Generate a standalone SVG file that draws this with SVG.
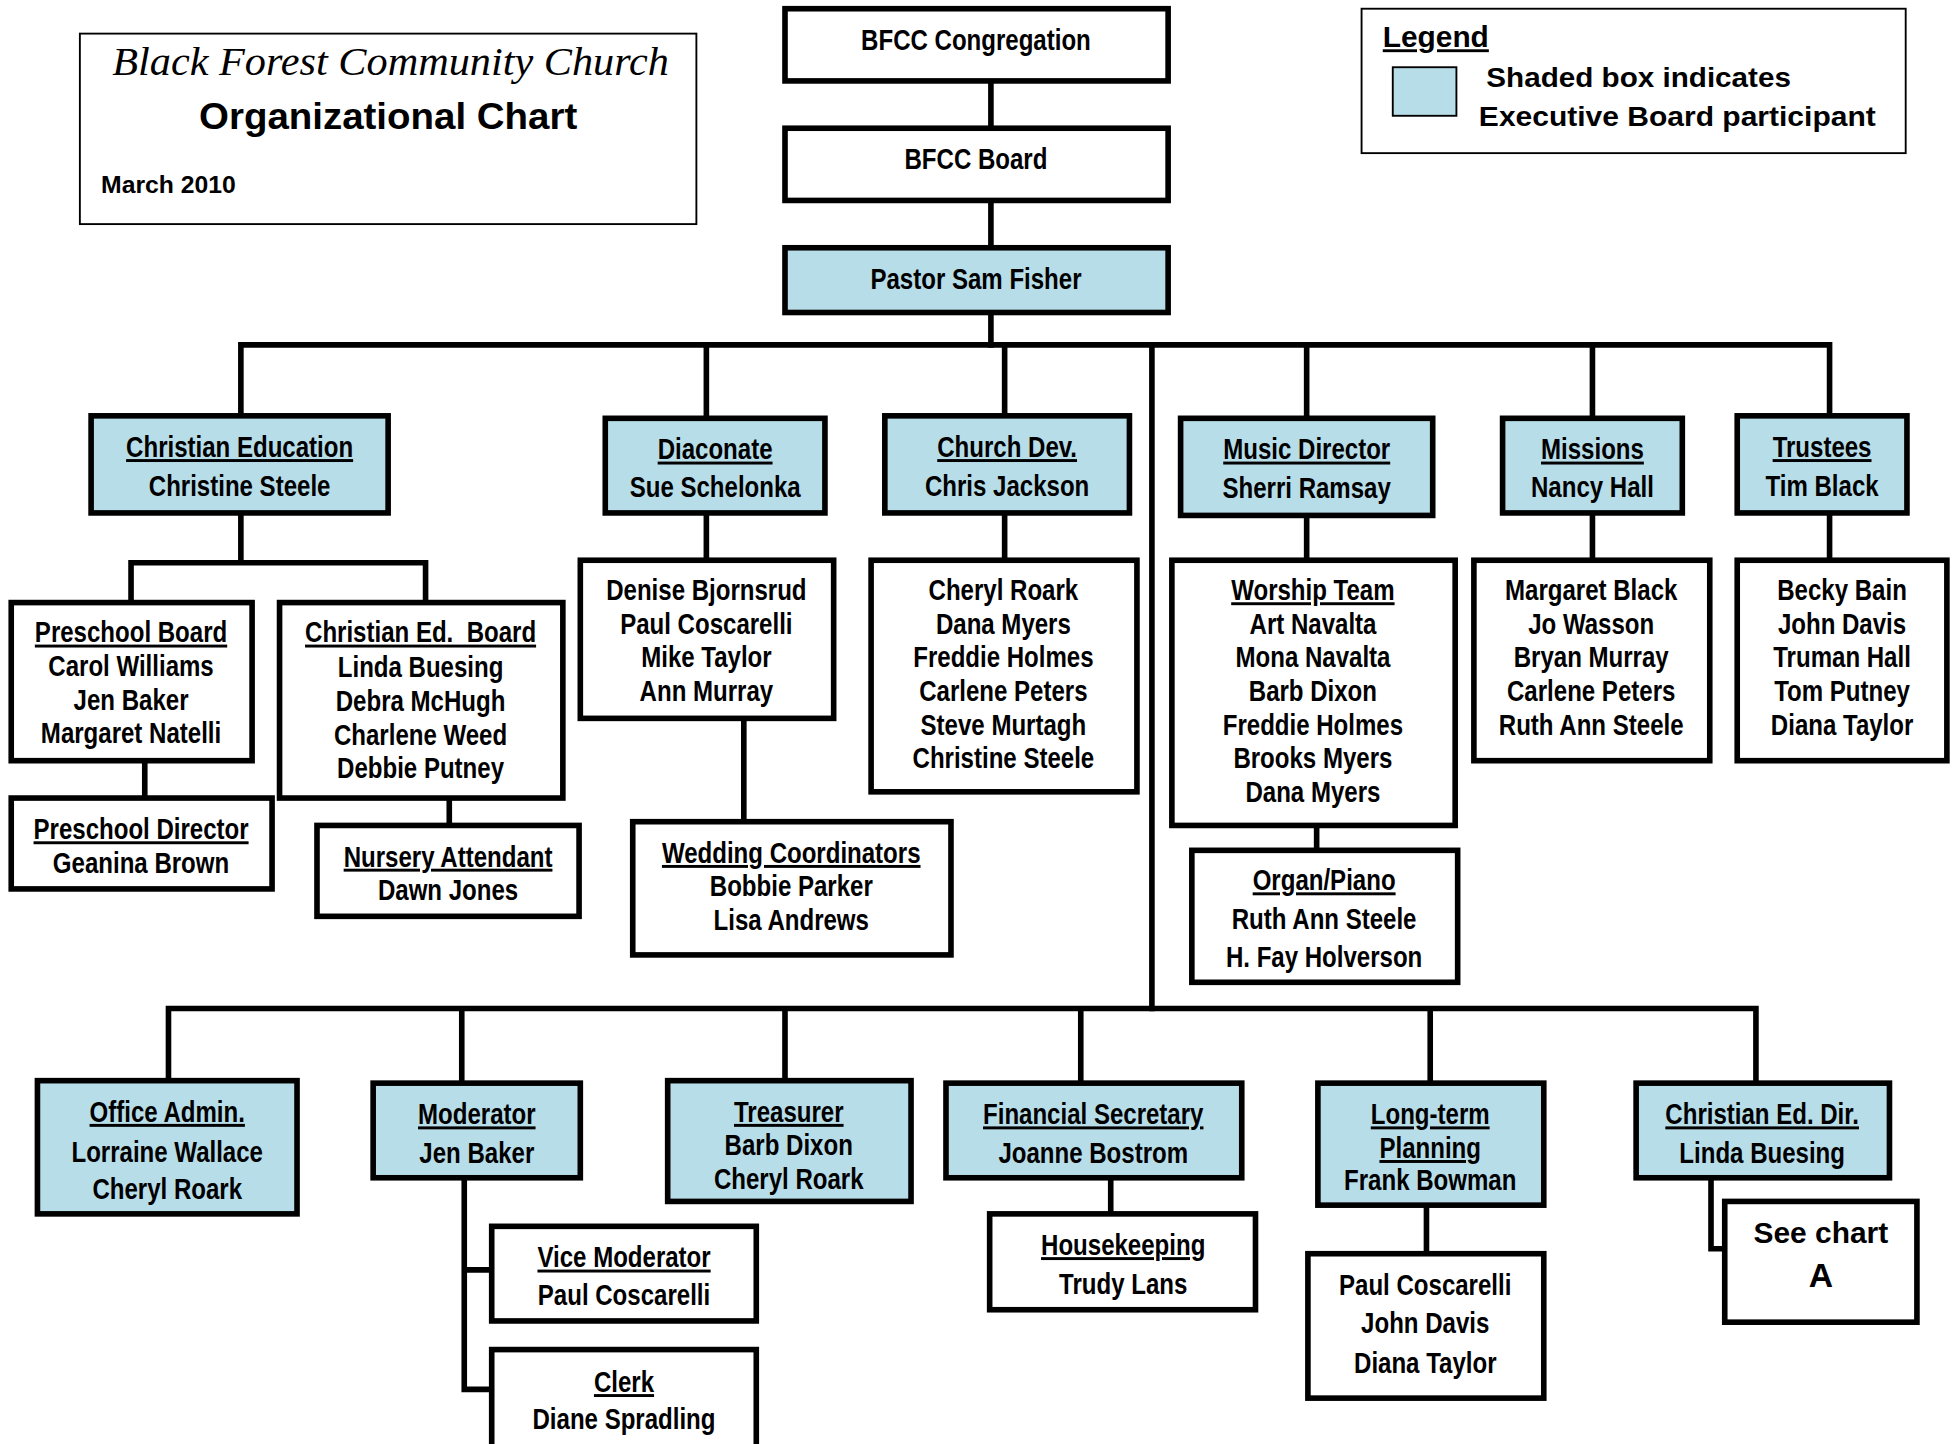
<svg xmlns="http://www.w3.org/2000/svg" width="1953" height="1444" viewBox="0 0 1953 1444">
<style>
.b{fill:#fff;stroke:#000;stroke-width:4.5}
.s{fill:#b7dde8;stroke:#000;stroke-width:4.5}
.thin{fill:#fff;stroke:#000;stroke-width:1.5}
.c{fill:none;stroke:#000;stroke-width:4.5;stroke-linecap:square}
.t{font-family:"Liberation Sans",Arial,sans-serif;font-weight:bold;font-size:23.5px;text-anchor:middle;fill:#000;transform-box:fill-box;transform-origin:center;transform:scaleX(0.82)}
.u{text-decoration:underline}
.a{font-family:"Liberation Sans",Arial,sans-serif;font-weight:bold;fill:#000}
</style>
<rect width="1953" height="1444" fill="#fff"/>
<g transform="scale(1.248,1.245)">
<g id="connectors">
<path class="c" d="M794 65V103M794 161V199M794 251V277"/>
<path class="c" d="M193 334V277H1466V334M566 277V336M805 277V334M923 277V810M1047 277V336M1276 277V336"/>
<path class="c" d="M193 412V452M105 484V452H341V484M116 611V641M360 641V663"/>
<path class="c" d="M566 412V450M596 577V660M805 412V450M1047 414V450M1055 663V683M1276 412V450M1466 412V450"/>
<path class="c" d="M135 868V810H1407V868M370 810V870M629 810V868M866 810V870M1146 810V870"/>
<path class="c" d="M372 946V1116H394M372 1020H394M890 946V975M1143 968V1007M1371 946V1003H1382"/>
</g>
<g id="title">
<rect class="thin" x="64" y="27" width="494" height="153"/>
<text x="313" y="60" style="font-family:'Liberation Serif',serif;font-style:italic;font-size:32px" text-anchor="middle" textLength="446" lengthAdjust="spacingAndGlyphs">Black Forest Community Church</text>
<text class="a" x="311" y="104" font-size="29" text-anchor="middle" textLength="303" lengthAdjust="spacingAndGlyphs">Organizational Chart</text>
<text class="a" x="81" y="155" font-size="19" textLength="108" lengthAdjust="spacingAndGlyphs">March 2010</text>
</g>
<g id="legend">
<rect class="thin" x="1091" y="7" width="436" height="116"/>
<text class="a u" x="1108" y="38" font-size="23" textLength="85" lengthAdjust="spacingAndGlyphs">Legend</text>
<rect x="1116" y="54" width="51" height="39" fill="#b7dde8" stroke="#000" stroke-width="1.5"/>
<text class="a" x="1191" y="70" font-size="22.5" textLength="244" lengthAdjust="spacingAndGlyphs">Shaded box indicates</text>
<text class="a" x="1185" y="101" font-size="22.5" textLength="318" lengthAdjust="spacingAndGlyphs">Executive Board participant</text>
</g>
<g id="congregation"><rect class="b" x="629" y="7" width="307" height="58"/><text class="t" x="782" y="40">BFCC Congregation</text></g>
<g id="board"><rect class="b" x="629" y="103" width="307" height="58"/><text class="t" x="782" y="136">BFCC Board</text></g>
<g id="pastor"><rect class="s" x="629" y="199" width="307" height="52"/><text class="t" x="782" y="232">Pastor Sam Fisher</text></g>

<g id="ce"><rect class="s" x="73" y="334" width="238" height="78"/><text class="t u" x="192" y="367">Christian Education</text><text class="t" x="192" y="398">Christine Steele</text></g>
<g id="diaconate"><rect class="s" x="485" y="336" width="176" height="76"/><text class="t u" x="573" y="369">Diaconate</text><text class="t" x="573" y="399">Sue Schelonka</text></g>
<g id="churchdev"><rect class="s" x="709" y="334" width="196" height="78"/><text class="t u" x="807" y="367">Church Dev.</text><text class="t" x="807" y="398">Chris Jackson</text></g>
<g id="music"><rect class="s" x="946" y="336" width="202" height="78"/><text class="t u" x="1047" y="369">Music Director</text><text class="t" x="1047" y="400">Sherri Ramsay</text></g>
<g id="missions"><rect class="s" x="1204" y="336" width="144" height="76"/><text class="t u" x="1276" y="369">Missions</text><text class="t" x="1276" y="399">Nancy Hall</text></g>
<g id="trustees"><rect class="s" x="1392" y="334" width="136" height="78"/><text class="t u" x="1460" y="367">Trustees</text><text class="t" x="1460" y="398">Tim Black</text></g>

<g id="preschoolboard"><rect class="b" x="9" y="484" width="193" height="127"/><text class="t u" x="105" y="516">Preschool Board</text><text class="t" x="105" y="543">Carol Williams</text><text class="t" x="105" y="570">Jen Baker</text><text class="t" x="105" y="597">Margaret Natelli</text></g>
<g id="ceboard"><rect class="b" x="224" y="484" width="227" height="157"/><text class="t u" x="337" y="516" style="white-space:pre">Christian Ed.  Board</text><text class="t" x="337" y="544">Linda Buesing</text><text class="t" x="337" y="571">Debra McHugh</text><text class="t" x="337" y="598">Charlene Weed</text><text class="t" x="337" y="625">Debbie Putney</text></g>
<g id="preschooldir"><rect class="b" x="9" y="641" width="209" height="73"/><text class="t u" x="113" y="674">Preschool Director</text><text class="t" x="113" y="701">Geanina Brown</text></g>
<g id="nursery"><rect class="b" x="254" y="663" width="210" height="73"/><text class="t u" x="359" y="696">Nursery Attendant</text><text class="t" x="359" y="723">Dawn Jones</text></g>
<g id="diaconatemembers"><rect class="b" x="465" y="450" width="203" height="127"/><text class="t" x="566" y="482">Denise Bjornsrud</text><text class="t" x="566" y="509">Paul Coscarelli</text><text class="t" x="566" y="536">Mike Taylor</text><text class="t" x="566" y="563">Ann Murray</text></g>
<g id="wedding"><rect class="b" x="507" y="660" width="255" height="107"/><text class="t u" x="634" y="693">Wedding Coordinators</text><text class="t" x="634" y="720">Bobbie Parker</text><text class="t" x="634" y="747">Lisa Andrews</text></g>
<g id="churchdevmembers"><rect class="b" x="698" y="450" width="213" height="186"/><text class="t" x="804" y="482">Cheryl Roark</text><text class="t" x="804" y="509">Dana Myers</text><text class="t" x="804" y="536">Freddie Holmes</text><text class="t" x="804" y="563">Carlene Peters</text><text class="t" x="804" y="590">Steve Murtagh</text><text class="t" x="804" y="617">Christine Steele</text></g>
<g id="worship"><rect class="b" x="939" y="450" width="227" height="213"/><text class="t u" x="1052" y="482">Worship Team</text><text class="t" x="1052" y="509">Art Navalta</text><text class="t" x="1052" y="536">Mona Navalta</text><text class="t" x="1052" y="563">Barb Dixon</text><text class="t" x="1052" y="590">Freddie Holmes</text><text class="t" x="1052" y="617">Brooks Myers</text><text class="t" x="1052" y="644">Dana Myers</text></g>
<g id="organ"><rect class="b" x="955" y="683" width="213" height="106"/><text class="t u" x="1061" y="715">Organ/Piano</text><text class="t" x="1061" y="746">Ruth Ann Steele</text><text class="t" x="1061" y="777">H. Fay Holverson</text></g>
<g id="missionsmembers"><rect class="b" x="1181" y="450" width="189" height="161"/><text class="t" x="1275" y="482">Margaret Black</text><text class="t" x="1275" y="509">Jo Wasson</text><text class="t" x="1275" y="536">Bryan Murray</text><text class="t" x="1275" y="563">Carlene Peters</text><text class="t" x="1275" y="590">Ruth Ann Steele</text></g>
<g id="trusteesmembers"><rect class="b" x="1392" y="450" width="168" height="161"/><text class="t" x="1476" y="482">Becky Bain</text><text class="t" x="1476" y="509">John Davis</text><text class="t" x="1476" y="536">Truman Hall</text><text class="t" x="1476" y="563">Tom Putney</text><text class="t" x="1476" y="590">Diana Taylor</text></g>

<g id="office"><rect class="s" x="30" y="868" width="208" height="107"/><text class="t u" x="134" y="901">Office Admin.</text><text class="t" x="134" y="933">Lorraine Wallace</text><text class="t" x="134" y="963">Cheryl Roark</text></g>
<g id="moderator"><rect class="s" x="299" y="870" width="166" height="76"/><text class="t u" x="382" y="903">Moderator</text><text class="t" x="382" y="934">Jen Baker</text></g>
<g id="treasurer"><rect class="s" x="535" y="868" width="195" height="97"/><text class="t u" x="632" y="901">Treasurer</text><text class="t" x="632" y="928">Barb Dixon</text><text class="t" x="632" y="955">Cheryl Roark</text></g>
<g id="finsec"><rect class="s" x="758" y="870" width="237" height="76"/><text class="t u" x="876" y="903">Financial Secretary</text><text class="t" x="876" y="934">Joanne Bostrom</text></g>
<g id="longterm"><rect class="s" x="1056" y="870" width="181" height="98"/><text class="t u" x="1146" y="903">Long-term</text><text class="t u" x="1146" y="930">Planning</text><text class="t" x="1146" y="956">Frank Bowman</text></g>
<g id="cedir"><rect class="s" x="1311" y="870" width="203" height="76"/><text class="t u" x="1412" y="903">Christian Ed. Dir.</text><text class="t" x="1412" y="934">Linda Buesing</text></g>
<g id="vicemod"><rect class="b" x="394" y="985" width="212" height="76"/><text class="t u" x="500" y="1018">Vice Moderator</text><text class="t" x="500" y="1048">Paul Coscarelli</text></g>
<g id="clerk"><rect class="b" x="394" y="1084" width="212" height="90"/><text class="t u" x="500" y="1118">Clerk</text><text class="t" x="500" y="1148">Diane Spradling</text></g>
<g id="housekeeping"><rect class="b" x="793" y="975" width="213" height="77"/><text class="t u" x="900" y="1008">Housekeeping</text><text class="t" x="900" y="1039">Trudy Lans</text></g>
<g id="ltmembers"><rect class="b" x="1048" y="1007" width="189" height="116"/><text class="t" x="1142" y="1040">Paul Coscarelli</text><text class="t" x="1142" y="1071">John Davis</text><text class="t" x="1142" y="1103">Diana Taylor</text></g>
<g id="seechart"><rect class="b" x="1382" y="965" width="154" height="97"/><text class="a" x="1459" y="998" font-size="24" text-anchor="middle">See chart</text><text class="a" x="1459" y="1034" font-size="27" text-anchor="middle">A</text></g>
</g>
</svg>
